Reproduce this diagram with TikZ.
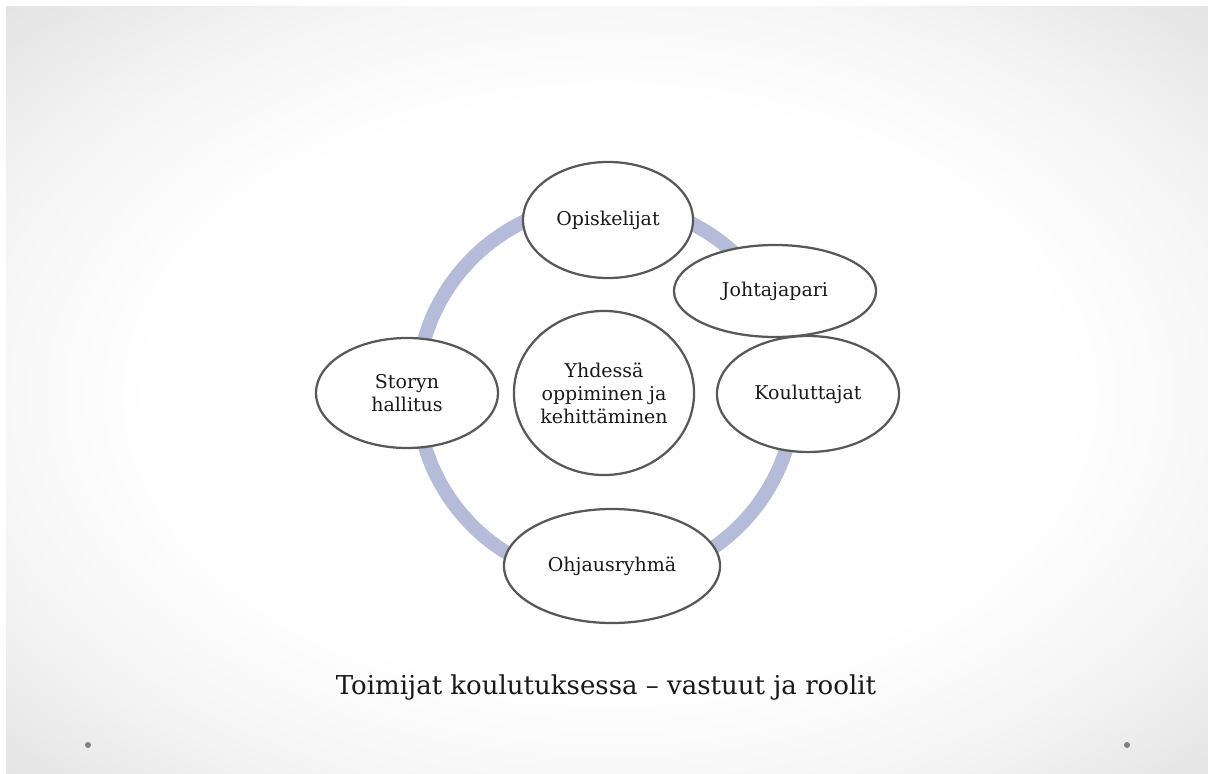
\documentclass[tikz,border=0pt]{standalone}
\usepackage{fontspec}
\setmainfont{DejaVu Serif}
\usepackage{xcolor}
\usepackage{tikz}
\usetikzlibrary{shapes.geometric}
\definecolor{ringblue}{RGB}{180,188,218}
\definecolor{rimgray}{RGB}{88,88,88}
\pgfdeclareradialshading{vignette}{\pgfpoint{0bp}{0bp}}{color(0bp)=(white); color(19bp)=(white); color(27bp)=(black!4); color(33bp)=(black!9); color(40bp)=(black!14); color(50bp)=(black!17)}

\begin{document}
\begin{tikzpicture}[x=0.025cm,y=-0.025cm,
  every node/.style={font=\fontsize{13.5}{16.4}\selectfont,text=black!90},
  role/.style={ellipse,draw=rimgray,line width=1.6pt,fill=white,inner sep=0pt,align=center}]
  \useasboundingbox (0,0) rectangle (1208,774);
  \fill[white] (0,0) rectangle (1208,774);
  \fill[black!12] (6,7) rectangle (1208,774);
  \shade[shading=vignette] (6,7) rectangle (1214,782);   % slide background
  \fill[black!50] (88,745) circle (3);                    % corner marks
  \fill[black!50] (1127,745) circle (3);
  \draw[ringblue,line width=10pt] (606,392) circle (189);  % cycle ring
  \node[role,minimum width=4.25cm,minimum height=2.9cm] (opisk) at (608,220) {Opiskelijat};
  \node[role,minimum width=5.05cm,minimum height=2.3cm] (johto) at (775,291) {Johtajapari};
  \node[role,minimum width=4.55cm,minimum height=2.9cm] (koul) at (808,394) {Kouluttajat};
  \node[role,minimum width=4.55cm,minimum height=2.75cm] (hall) at (407,393) {Storyn\\hallitus};
  \node[role,minimum width=4.5cm,minimum height=4.1cm] (yhd) at (604,393) {Yhdessä\\oppiminen ja\\kehittäminen};
  \node[role,minimum width=5.4cm,minimum height=2.85cm] (ohj) at (612,566) {Ohjausryhmä};
  \node[font=\fontsize{18.5}{22}\selectfont] (title) at (606,688) {Toimijat koulutuksessa – vastuut ja roolit};
\end{tikzpicture}
\end{document}
